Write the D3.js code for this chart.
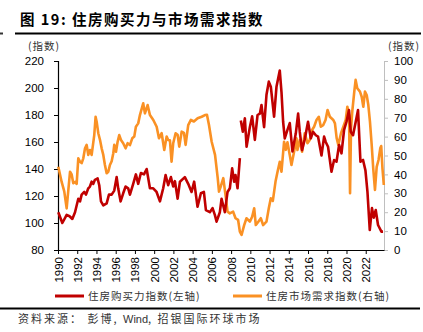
<!DOCTYPE html>
<html>
<head>
<meta charset="utf-8">
<script src="https://cdn.jsdelivr.net/npm/d3@7"></script>
<style>
  html, body { margin: 0; padding: 0; background: #fff; }
  svg { display: block; }
  text { font-family: "Liberation Sans", Arial, "Noto Sans CJK SC", sans-serif; }
  .cjk { font-family: "Noto Sans CJK SC", sans-serif; }
</style>
</head>
<body>
<svg id="chart" width="423" height="332"></svg>
<script>
// Housing affordability index (left axis), [decimal year, value]; null marks the data gap
const affordability = [
  [1990.03,108],[1990.45,100],[1990.90,106],[1991.20,105],[1991.49,103],[1991.77,108],
  [1992.11,118],[1992.29,116],[1992.46,121],[1992.73,123],[1992.91,121],[1993.15,125.7],
  [1993.32,127],[1993.50,130.6],[1993.67,129],[1993.84,132],[1994.12,133],[1994.29,128],
  [1994.47,116],[1994.71,113],[1995.06,114.6],[1995.30,121],[1995.58,121],[1995.85,124],
  [1996.10,134],[1996.26,125.7],[1996.51,116],[1996.78,122],[1997.03,127],[1997.30,125.7],
  [1997.48,121],[1997.82,129],[1998.10,136],[1998.34,129],[1998.62,137],[1998.94,136],
  [1999.22,140],[1999.56,125.7],[1999.90,125.7],[2000.25,123],[2000.60,116],[2000.94,125.7],
  [2001.19,135.5],[2001.46,128],[2001.74,134],[2001.98,127],[2002.16,131],[2002.44,118],
  [2002.68,130.6],[2003.19,134],[2003.54,129],[2003.89,123],[2004.16,130.6],[2004.51,112],
  [2004.86,122],[2005.17,123],[2005.38,109.6],[2005.79,108],[2006.07,111],[2006.31,106],
  [2006.49,101],[2006.83,108],[2007.01,118],[2007.35,108],[2007.63,123],[2007.87,125.7],
  [2008.11,140.5],[2008.32,130.6],[2008.46,135.5],[2008.67,125.7],[2008.91,148],
  [2008.96,null],
  [2009.01,176],[2009.22,167.6],[2009.43,177.5],[2009.61,156.5],[2009.95,171],[2010.19,179],
  [2010.47,161.5],[2010.75,180],[2010.99,181],[2011.16,187.4],[2011.43,171],[2011.68,195],
  [2011.92,204.7],[2012.13,201],[2012.47,178.7],[2012.72,201],[2013.06,213],[2013.24,197],
  [2013.41,175],[2013.58,162.7],[2013.86,169],[2014.10,174],[2014.38,153],[2014.73,166.4],
  [2014.97,181],[2015.14,167.6],[2015.38,154],[2015.66,162],[2016.00,175],[2016.29,162.7],
  [2016.52,167.6],[2016.81,165],[2017.04,164],[2017.40,150],[2017.67,164],[2017.84,160],
  [2018.08,156.5],[2018.44,138],[2018.71,146.7],[2018.96,145.4],[2019.23,157.8],[2019.48,151.6],
  [2019.75,169],[2020.00,175],[2020.26,183.7],[2020.44,167.6],[2020.68,165],[2020.96,175],
  [2021.20,183.7],[2021.45,145.4],[2021.72,146.7],[2021.97,139],[2022.18,123],[2022.42,94.8],
  [2022.65,111],[2022.83,104],[2023.04,109.6],[2023.28,98.5],[2023.63,93.6],[2023.80,93.6]
];

// Housing market demand index (right axis), [decimal year, value]
const demand = [
  [1990.03,44],[1990.38,36],[1990.65,31],[1990.90,22],[1991.25,41.4],[1991.42,40],
  [1991.59,35.3],[1991.77,36],[1991.94,35],[1992.11,48.5],[1992.29,46.7],[1992.46,46],
  [1992.63,48.5],[1992.81,53.8],[1992.98,55.6],[1993.15,50.3],[1993.32,52.9],[1993.50,50.3],
  [1993.77,60.8],[1993.91,70.5],[1994.02,67.9],[1994.19,61.8],[1994.37,58.2],[1994.54,53.8],
  [1994.71,50.3],[1994.88,45],[1995.06,40.6],[1995.23,41.4],[1995.40,45],[1995.58,47],
  [1995.75,51.2],[1995.85,55.6],[1996.03,52],[1996.20,57.3],[1996.37,60.8],[1996.55,58.2],
  [1996.78,56.5],[1997.03,53.8],[1997.24,56.5],[1997.48,55.5],[1997.72,59.1],[1997.93,60],
  [1998.10,65.2],[1998.34,67],[1998.52,71.4],[1998.86,77.6],[1999.04,72.3],[1999.32,76.7],
  [1999.56,71.4],[1999.91,68.8],[2000.26,65.2],[2000.50,59.1],[2000.78,61.8],[2001.05,52.9],
  [2001.30,60],[2001.46,58.2],[2001.64,58],[2001.81,46.7],[2001.98,56.5],[2002.23,61.8],
  [2002.44,61],[2002.61,54.7],[2002.86,62.6],[2003.10,62],[2003.27,55.6],[2003.54,66.1],
  [2003.82,68.8],[2004.13,68],[2004.52,69.7],[2004.94,70.5],[2005.28,71.4],[2005.49,71.5],
  [2005.70,66.1],[2005.98,57.3],[2006.33,50.3],[2006.61,38],[2006.74,30.9],[2006.95,34],
  [2007.19,38],[2007.42,29],[2007.63,20.3],[2007.87,19.4],[2008.21,20.3],[2008.46,16.8],
  [2008.73,15.9],[2008.91,9.7],[2009.09,8],[2009.36,13.2],[2009.60,16.8],[2009.95,15],
  [2010.19,17.6],[2010.40,22.1],[2010.57,13.2],[2010.83,15],[2011.09,16.8],[2011.33,13.2],
  [2011.68,15],[2011.92,22.1],[2012.13,27.4],[2012.34,26],[2012.62,36.2],[2012.83,41.4],
  [2013.06,46.7],[2013.24,41.4],[2013.51,57.3],[2013.69,53],[2013.86,57],[2014.10,50.3],
  [2014.28,45],[2014.55,52],[2014.80,59.1],[2014.90,52.9],[2015.14,58.2],[2015.38,52],
  [2015.66,61.8],[2015.94,56.5],[2016.18,58.2],[2016.42,63.5],[2016.63,65.2],[2016.88,68.8],
  [2017.12,70.5],[2017.33,65.2],[2017.57,66],[2017.82,68.8],[2018.03,74.1],[2018.27,70.5],
  [2018.63,68.8],[2018.80,67],[2018.98,59.1],[2019.15,55.6],[2019.43,61.8],[2019.67,65.2],
  [2019.92,68.8],[2020.09,75.8],[2020.26,71.4],[2020.37,30],[2020.47,64.4],[2020.60,73.2],
  [2020.81,83.8],[2020.95,90],[2021.12,85.6],[2021.40,83.8],[2021.58,81.1],[2021.75,75.8],
  [2021.92,83.8],[2022.10,82],[2022.27,76.7],[2022.44,67.9],[2022.62,55.6],[2022.78,43.2],
  [2022.96,31.8],[2023.14,44],[2023.33,47.6],[2023.51,53.8],[2023.61,55],[2023.74,43.2],
  [2023.88,34.4]
];

const yearTicks = d3.range(1990, 2023, 2);
const leftTicks = [80, 100, 120, 140, 160, 180, 200, 220];
const rightTicks = [0, 10, 20, 30, 40, 50, 60, 70, 80, 90, 100];

const titleText = "图 19: 住房购买力与市场需求指数";
const unitText = "(指数)";
const legendItems = [
  { name: "住房购买力指数(左轴)", color: "#c00000" },
  { name: "住房市场需求指数(右轴)", color: "#fa9124" }
];
// Source line pieces: CJK runs are spaced out, the Latin name is not
const sourceParts = [
  { text: "资料来源： 彭博, ", spacing: 2 },
  { text: "Wind", spacing: 0 },
  { text: ", 招银国际环球市场", spacing: 2 }
];

const svg = d3.select("#chart");
const plot = { left: 58, right: 384, top: 61, bottom: 250 };

const x = d3.scaleLinear().domain([1990, 2023.9]).range([plot.left, plot.right]);
const yL = d3.scaleLinear().domain([80, 220]).range([plot.bottom, plot.top]);
const yR = d3.scaleLinear().domain([0, 100]).range([plot.bottom, plot.top]);

// Title and rules
svg.append("text").attr("class", "cjk").attr("x", 20).attr("y", 25)
  .attr("font-size", 14.5).attr("font-weight", "bold").attr("letter-spacing", 1.5)
  .attr("fill", "#000").text(titleText);
svg.append("line").attr("x1", 15).attr("x2", 421).attr("y1", 33.5).attr("y2", 33.5)
  .attr("stroke", "#000").attr("stroke-width", 2);
svg.append("line").attr("x1", 0).attr("x2", 3).attr("y1", 33.5).attr("y2", 33.5)
  .attr("stroke", "#333").attr("stroke-width", 2);

// Unit labels
svg.append("text").attr("class", "cjk").attr("x", 28).attr("y", 50)
  .attr("font-size", 10.5).attr("letter-spacing", 1).attr("fill", "#333").text(unitText);
svg.append("text").attr("class", "cjk").attr("x", 388).attr("y", 50)
  .attr("font-size", 10.5).attr("letter-spacing", 1).attr("fill", "#333").text(unitText);

// Left axis
const gL = svg.append("g").attr("transform", `translate(${plot.left},0)`)
  .call(d3.axisLeft(yL).tickValues(leftTicks).tickSize(4).tickPadding(10));
gL.select(".domain").attr("stroke", "#000").attr("stroke-width", 1.2);
gL.selectAll(".tick line").attr("stroke", "#000");
gL.selectAll(".tick text").attr("font-size", 11.5).attr("fill", "#000")
  .attr("font-family", "Liberation Sans, Arial, sans-serif");

// Right axis
const gR = svg.append("g").attr("transform", `translate(${plot.right},0)`)
  .call(d3.axisRight(yR).tickValues(rightTicks).tickSize(4).tickPadding(6));
gR.select(".domain").attr("stroke", "#bfbfbf").attr("stroke-width", 1);
gR.selectAll(".tick line").attr("stroke", "#bfbfbf");
gR.selectAll(".tick text").attr("font-size", 11.5).attr("fill", "#000")
  .attr("font-family", "Liberation Sans, Arial, sans-serif");

// Bottom axis
const gB = svg.append("g").attr("transform", `translate(0,${plot.bottom})`)
  .call(d3.axisBottom(x).tickValues(yearTicks).tickFormat(d3.format("d")).tickSize(4).tickSizeOuter(0));
gB.select(".domain").attr("stroke", "#000").attr("stroke-width", 1.2);
gB.selectAll(".tick line").attr("stroke", "#000");
gB.selectAll(".tick text")
  .attr("font-size", 11.5).attr("fill", "#000")
  .attr("font-family", "Liberation Sans, Arial, sans-serif")
  .attr("text-anchor", "end").attr("dy", "0.35em")
  .attr("transform", "rotate(-90)").attr("x", -7).attr("y", 0);

// Series
const lineL = d3.line().defined(d => d[1] != null).x(d => x(d[0])).y(d => yL(d[1]));
const lineR = d3.line().x(d => x(d[0])).y(d => yR(d[1]));

svg.append("path").datum(demand).attr("d", lineR)
  .attr("fill", "none").attr("stroke", legendItems[1].color)
  .attr("stroke-width", 2.6).attr("stroke-linejoin", "round");
svg.append("path").datum(affordability).attr("d", lineL)
  .attr("fill", "none").attr("stroke", legendItems[0].color)
  .attr("stroke-width", 2.6).attr("stroke-linejoin", "round");

// Legend
const legendX = [55, 233];
legendItems.forEach((item, i) => {
  const g = svg.append("g").attr("transform", `translate(${legendX[i]},296)`);
  g.append("line").attr("x1", 0).attr("x2", 29).attr("y1", 0).attr("y2", 0)
    .attr("stroke", item.color).attr("stroke-width", 3);
  g.append("text").attr("class", "cjk").attr("x", 33).attr("y", 4)
    .attr("font-size", 10.5).attr("letter-spacing", 1).attr("fill", "#333").text(item.name);
});

// Footer rule and source
svg.append("line").attr("x1", 0).attr("x2", 420).attr("y1", 308.5).attr("y2", 308.5)
  .attr("stroke", "#000").attr("stroke-width", 2);
const src = svg.append("text").attr("class", "cjk").attr("x", 18).attr("y", 323)
  .attr("font-size", 11).attr("fill", "#333").attr("xml:space", "preserve");
src.selectAll("tspan").data(sourceParts).join("tspan")
  .attr("letter-spacing", d => d.spacing)
  .attr("font-family", d => d.spacing ? "Noto Sans CJK SC, sans-serif" : "Liberation Sans, Arial, sans-serif")
  .text(d => d.text);
</script>
</body>
</html>
